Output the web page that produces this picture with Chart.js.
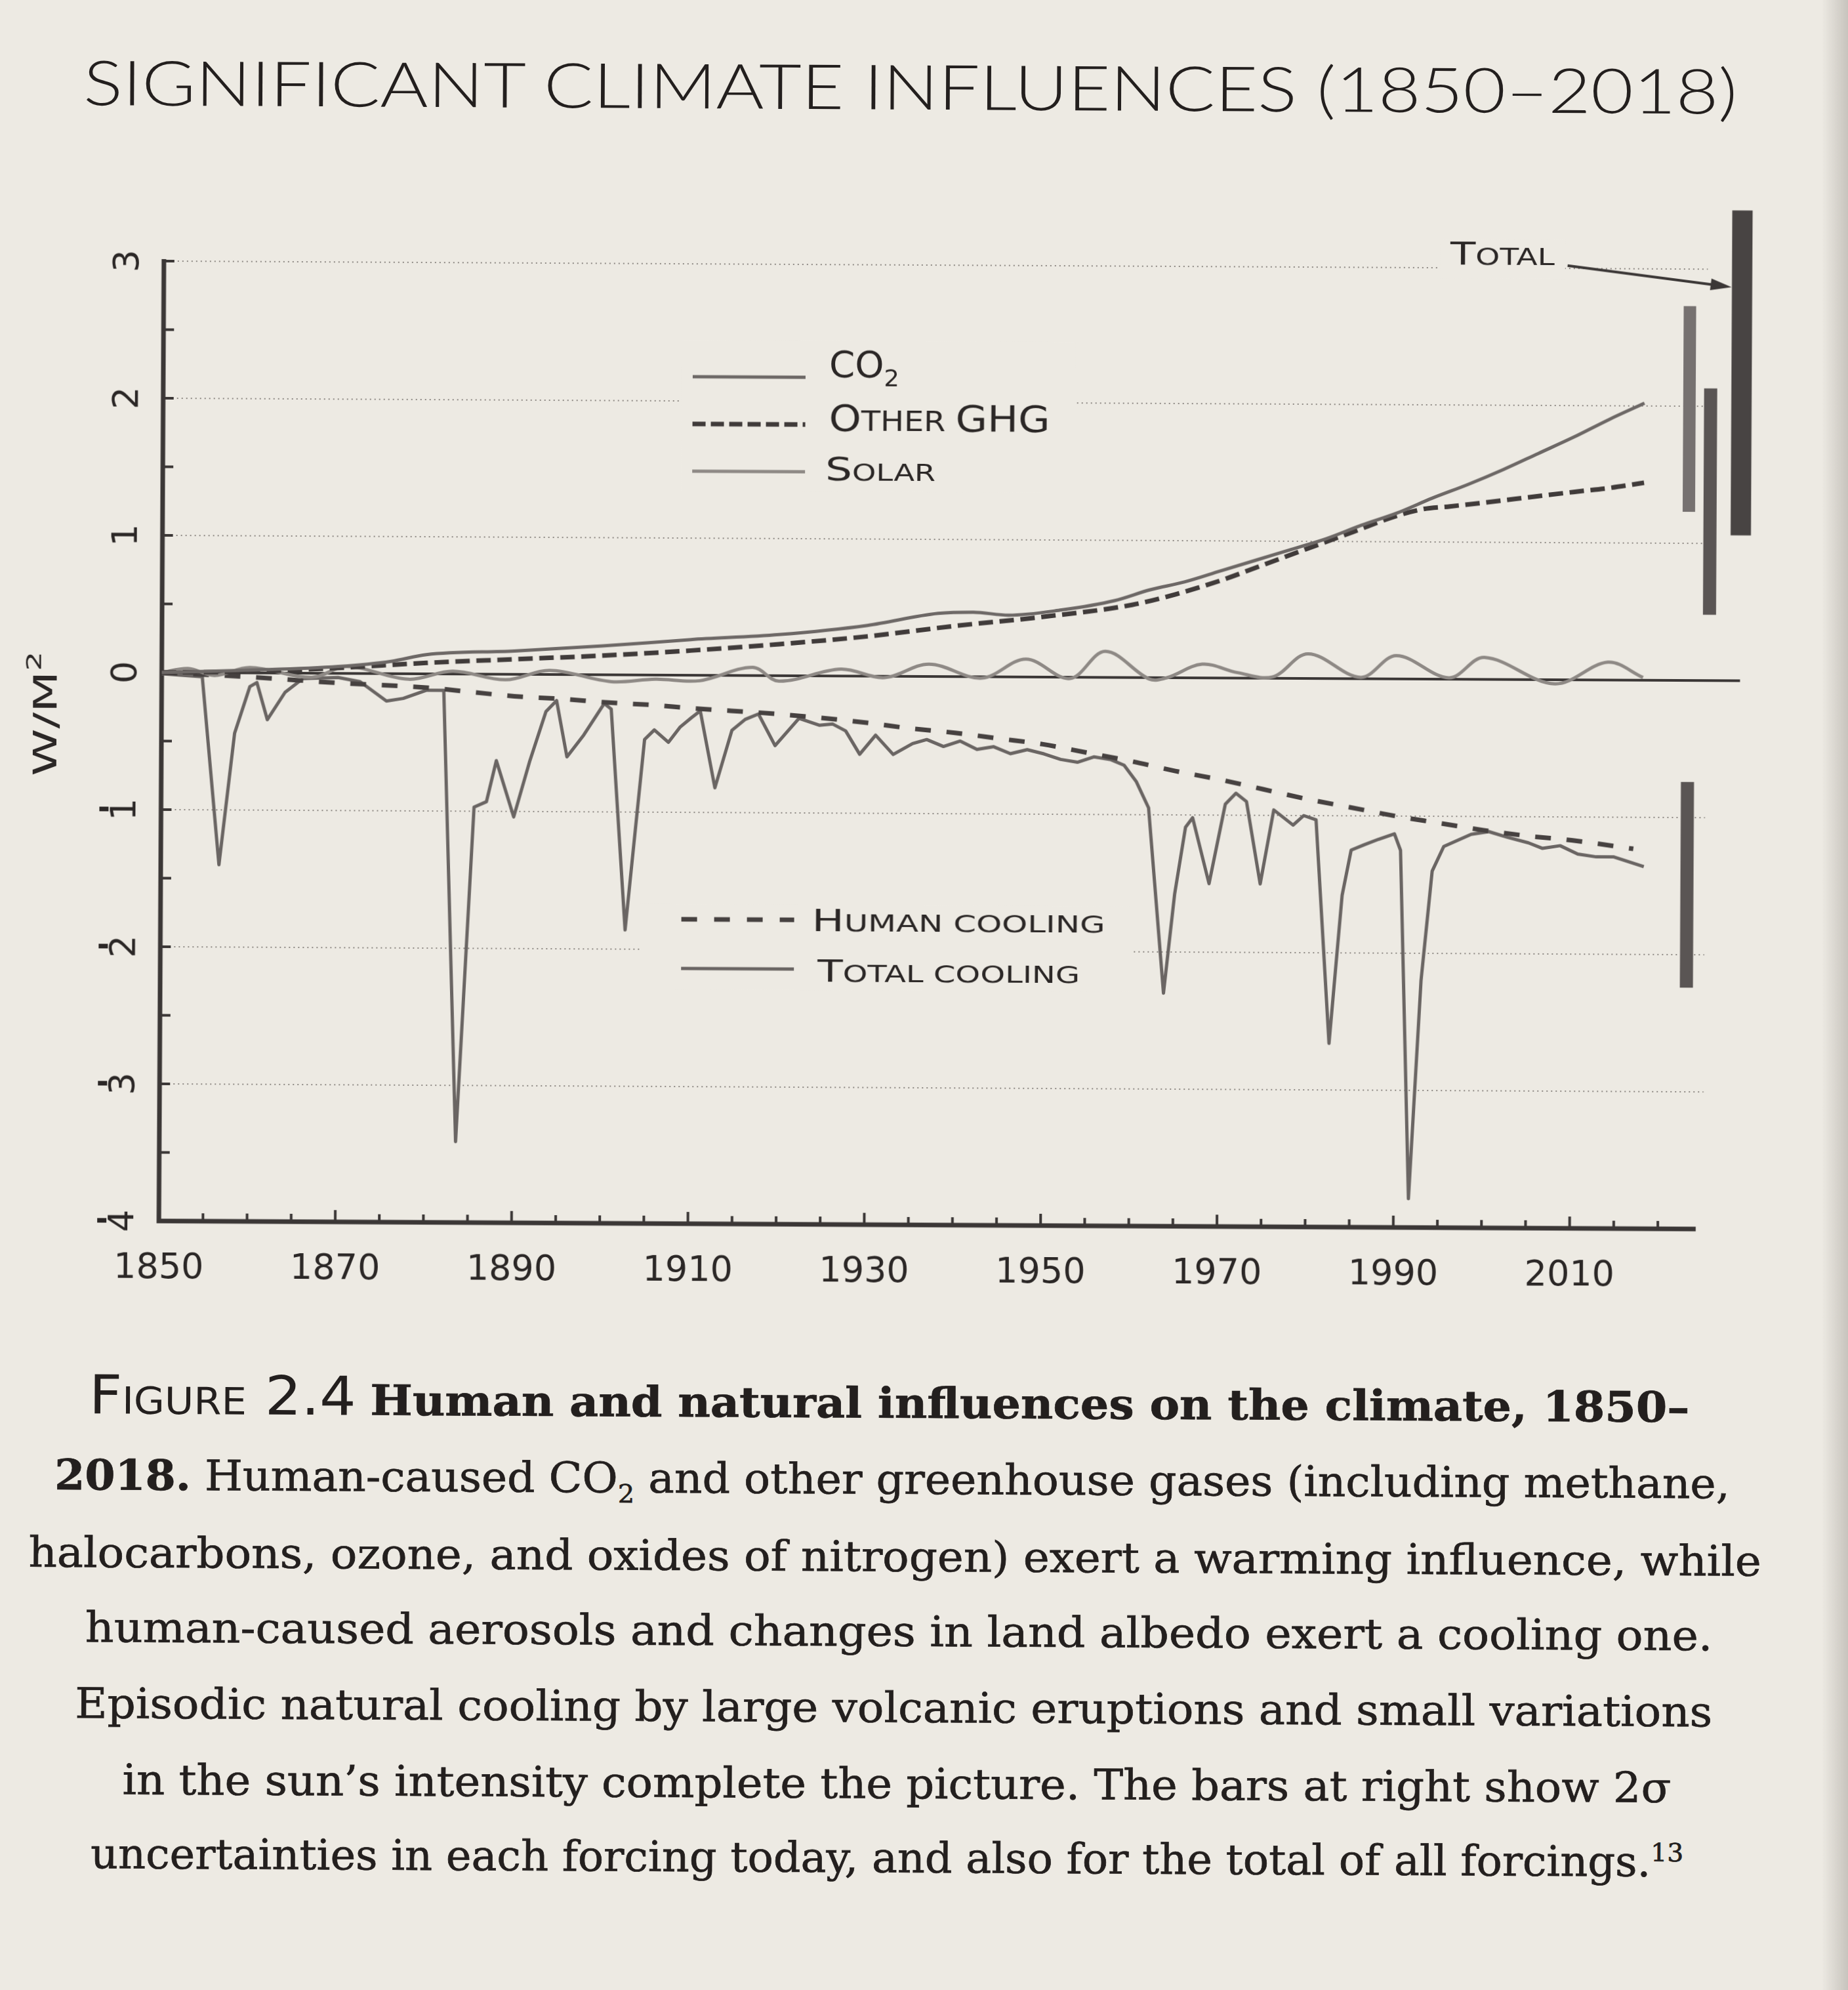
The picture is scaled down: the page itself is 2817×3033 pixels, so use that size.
<!DOCTYPE html>
<html>
<head>
<meta charset="utf-8">
<script src="https://cdn.jsdelivr.net/npm/chart.js@4.4.1/dist/chart.umd.min.js"></script>
<style>
  html, body { margin: 0; padding: 0; background: #edeae3; }
  body { width: 2817px; height: 3033px; overflow: hidden; position: relative; }
  #page { position: absolute; left: 0; top: 0; width: 2817px; height: 3033px;
          transform: rotate(0.3deg); transform-origin: 1408px 1516px; color: #231f1e; }
  #chart { position: absolute; left: 0; top: 0; }
  .fit { position: absolute; white-space: nowrap; transform-origin: 0 0; line-height: 1; }
  .bl { display: inline-block; width: 0; height: 0; }
  .title { font-family: Lato, 'Open Sans', sans-serif; font-weight: 300; font-size: 95px; }
  .cap { font-family: 'DejaVu Serif', serif; font-size: 64px; -webkit-text-stroke: 0.7px #231f1e; }
  .cap b { font-weight: bold; }
  .fig { font-family: 'DejaVu Sans', sans-serif; font-variant: small-caps; font-size: 82px; -webkit-text-stroke: 0; }
  .cap sub { font-size: 0.6em; vertical-align: -0.4em; line-height: 0; }
  .cap sup { font-size: 0.6em; vertical-align: 0.6em; line-height: 0; }
  #gutter { position: absolute; top: 0; right: 0; width: 40px; height: 3033px;
            background: linear-gradient(to right, rgba(130,125,120,0), rgba(130,125,120,0.35)); }
</style>
</head>
<body>
<div id="page">
  <div class="fit title" data-l="120" data-r="2641" data-b="167">SIGNIFICANT CLIMATE INFLUENCES (1850–2018)<i class="bl"></i></div>
  <canvas id="chart" width="2817" height="2000"></canvas>
  <div class="fit cap" data-l="139" data-r="2579" data-b="2161"><span class="fig">Figure 2.4</span> <b>Human and natural influences on the climate, 1850–</b><i class="bl"></i></div>
  <div class="fit cap" data-l="87" data-r="2641" data-b="2277"><b>2018.</b> Human-caused CO<sub>2</sub> and other greenhouse gases (including methane,<i class="bl"></i></div>
  <div class="fit cap" data-l="48" data-r="2689" data-b="2395">halocarbons, ozone, and oxides of nitrogen) exert a warming influence, while<i class="bl"></i></div>
  <div class="fit cap" data-l="135" data-r="2616" data-b="2509">human-caused aerosols and changes in land albedo exert a cooling one.<i class="bl"></i></div>
  <div class="fit cap" data-l="120" data-r="2616" data-b="2625">Episodic natural cooling by large volcanic eruptions and small variations<i class="bl"></i></div>
  <div class="fit cap" data-l="193" data-r="2554" data-b="2741">in the sun’s intensity complete the picture. The bars at right show 2σ<i class="bl"></i></div>
  <div class="fit cap" data-l="145" data-r="2573" data-b="2854">uncertainties in each forcing today, and also for the total of all forcings.<sup>13</sup><i class="bl"></i></div>
</div>
<div id="gutter"></div>

<script>
// forcing in W/m2
var co2Years = [1850, 1860, 1870, 1876, 1880, 1890, 1900, 1910, 1920, 1930, 1938, 1942, 1946, 1952, 1958,
  1962, 1966, 1970, 1974, 1978, 1982, 1986, 1990, 1994, 1998, 2002, 2006, 2010, 2014, 2018];
var co2Values = [0.00, 0.02, 0.05, 0.09, 0.14, 0.17, 0.21, 0.26, 0.30, 0.37, 0.46, 0.47, 0.45, 0.49, 0.56,
  0.64, 0.70, 0.78, 0.86, 0.94, 1.02, 1.12, 1.21, 1.32, 1.42, 1.53, 1.65, 1.77, 1.90, 2.02];

var ghgYears = [1850, 1860, 1870, 1880, 1890, 1900, 1910, 1920, 1930, 1940, 1950, 1960, 1965, 1970, 1975,
  1980, 1985, 1990, 1993, 1996, 2000, 2005, 2010, 2014, 2018];
var ghgValues = [0.00, 0.01, 0.04, 0.08, 0.11, 0.14, 0.18, 0.23, 0.29, 0.37, 0.44, 0.53, 0.61, 0.71, 0.83,
  0.95, 1.07, 1.19, 1.24, 1.26, 1.29, 1.33, 1.37, 1.40, 1.44];

var solarYears = [1850, 1853, 1856, 1860, 1867, 1871, 1878, 1883, 1889, 1894, 1901, 1906, 1911, 1917, 1920,
  1927, 1932, 1937, 1943, 1948, 1953, 1957, 1962, 1964, 1968, 1972, 1976, 1980, 1986, 1990, 1996, 2000,
  2008, 2014, 2018];
var solarValues = [0.00, 0.03, -0.02, 0.04, -0.03, 0.05, -0.04, 0.02, -0.04, 0.03, -0.05, -0.03, -0.04, 0.06, -0.04,
  0.05, -0.01, 0.09, -0.01, 0.13, -0.01, 0.19, -0.01, 0.00, 0.10, 0.04, 0.01, 0.18, 0.01, 0.17, 0.01, 0.16,
  -0.03, 0.13, 0.02];

var humanYears = [1850, 1860, 1870, 1880, 1885, 1890, 1896, 1900, 1906, 1910, 1920, 1930, 1935, 1940, 1945,
  1950, 1955, 1960, 1965, 1970, 1975, 1980, 1985, 1990, 1995, 2000, 2005, 2010, 2017];
var humanValues = [0.00, -0.03, -0.07, -0.10, -0.13, -0.16, -0.18, -0.20, -0.22, -0.24, -0.28, -0.34, -0.38, -0.41, -0.45,
  -0.49, -0.55, -0.61, -0.68, -0.74, -0.81, -0.88, -0.94, -1.00, -1.05, -1.10, -1.14, -1.17, -1.23];

var totalYears = [1850, 1854.6, 1856.6, 1858.3, 1860.0, 1860.8, 1862.0, 1864.0, 1866.0, 1870.0, 1872.5, 1875.5,
  1877.4, 1880.0, 1882.0, 1883.6, 1885.5, 1886.9, 1888.0, 1890.0, 1891.8, 1893.6, 1894.8, 1896.0, 1897.9,
  1900.2, 1901.0, 1902.7, 1904.8, 1905.9, 1907.5, 1908.8, 1910.1, 1911.1, 1912.8, 1914.7, 1916.2, 1917.7,
  1919.6, 1922.3, 1924.6, 1926.1, 1927.6, 1929.2, 1931.0, 1933.0, 1935.2, 1936.8, 1938.7, 1940.6, 1942.5,
  1944.4, 1946.3, 1948.2, 1950.1, 1952.0, 1953.9, 1955.8, 1957.7, 1959.2, 1960.6, 1962.0, 1963.8, 1965.0,
  1966.2, 1967.0, 1968.9, 1970.7, 1971.9, 1973.1, 1974.7, 1976.2, 1978.4, 1979.6, 1981.0, 1982.6, 1984.0,
  1985.0, 1986.5, 1988.1, 1989.9, 1990.6, 1991.7, 1993.0, 1994.2, 1995.5, 1998.6, 2000.6, 2002.7, 2005.1,
  2006.7, 2008.7, 2010.7, 2012.8, 2014.8, 2018.2];
var totalValues = [-0.01, -0.03, -1.40, -0.44, -0.10, -0.07, -0.34, -0.14, -0.04, -0.03, -0.06, -0.20,
  -0.18, -0.12, -0.12, -3.41, -0.97, -0.93, -0.63, -1.04, -0.63, -0.27, -0.19, -0.60, -0.44,
  -0.21, -0.25, -1.86, -0.47, -0.40, -0.49, -0.38, -0.31, -0.26, -0.82, -0.40, -0.32, -0.28,
  -0.51, -0.31, -0.36, -0.35, -0.40, -0.57, -0.43, -0.57, -0.49, -0.46, -0.51, -0.47, -0.53,
  -0.51, -0.56, -0.53, -0.56, -0.60, -0.62, -0.58, -0.60, -0.64, -0.76, -0.95, -2.30, -1.58,
  -1.09, -1.02, -1.50, -0.92, -0.84, -0.90, -1.50, -0.96, -1.07, -1.00, -1.03, -2.66, -1.58,
  -1.25, -1.21, -1.17, -1.13, -1.25, -3.79, -2.20, -1.40, -1.22, -1.13, -1.11, -1.15, -1.19,
  -1.23, -1.21, -1.27, -1.29, -1.29, -1.36];

// 2-sigma uncertainty bars at right
var barNames = ['CO2', 'Other GHG', 'Total', 'Human cooling'];
var barSlots = [2023.1, 2025.5, 2029.0, 2023.1];
var barLow = [1.23, 0.48, 1.06, -2.24];
var barHigh = [2.73, 2.13, 3.43, -0.74];

var yTicks = [3, 2, 1, 0, -1, -2, -3, -4];
var xTickLabels = [1850, 1870, 1890, 1910, 1930, 1950, 1970, 1990, 2010];

var PAPER = '#edeae3';
var INK = '#2b2726';
var AXIS = '#3b3736';
var FONT = "'DejaVu Sans', sans-serif";
var CO2_COLOR = '#6d6866';
var GHG_COLOR = '#403b3a';
var SOLAR_COLOR = '#8e8985';
var HUMAN_COLOR = '#464140';
var TOTAL_COLOR = '#6a6563';

function points(xs, ys) {
  return xs.map(function(x, i) { return { x: x, y: ys[i] }; });
}

// split "Other GHG" into big capitals and small capitals
function smallCaps(text, big, small) {
  var segs = [];
  text.split('').forEach(function(ch) {
    var isSmall = ch !== ch.toUpperCase() || ch === ' ';
    var size = isSmall ? small : big;
    var last = segs[segs.length - 1];
    if (last && last[1] === size) last[0] += ch.toUpperCase();
    else segs.push([ch.toUpperCase(), size, 0]);
  });
  return segs;
}

function drawSegs(ctx, segs, x, y, width) {
  var natural = 0;
  segs.forEach(function(s) {
    ctx.font = s[1] + 'px ' + FONT;
    natural += ctx.measureText(s[0]).width;
  });
  var k = width ? width / natural : 1;
  ctx.save();
  ctx.translate(x, y);
  ctx.scale(k, 1);
  ctx.textAlign = 'left';
  ctx.textBaseline = 'alphabetic';
  ctx.fillStyle = INK;
  var cx = 0;
  segs.forEach(function(s) {
    ctx.font = s[1] + 'px ' + FONT;
    ctx.fillText(s[0], cx, s[2] || 0);
    cx += ctx.measureText(s[0]).width;
  });
  ctx.restore();
}

function hLine(ctx, x1, x2, y, width, color, dash) {
  ctx.save();
  ctx.strokeStyle = color;
  ctx.lineWidth = width;
  ctx.setLineDash(dash || []);
  ctx.beginPath();
  ctx.moveTo(x1, y);
  ctx.lineTo(x2, y);
  ctx.stroke();
  ctx.restore();
}

var framePlugin = {
  id: 'frame',
  beforeDatasetsDraw: function(chart) {
    var ctx = chart.ctx;
    var xs = chart.scales.x, ys = chart.scales.y;
    var px = function(v) { return xs.getPixelForValue(v); };
    var py = function(v) { return ys.getPixelForValue(v); };

    // dotted grid
    [3, 2, 1, -1, -2, -3].forEach(function(v) {
      hLine(ctx, px(1850), px(2025.1), py(v), 2, '#8f8a85', [2, 5]);
    });
    // paper behind legends and the "Total" label
    ctx.fillStyle = PAPER;
    ctx.fillRect(1034, 520, 600, 230);
    ctx.fillRect(975, 1380, 750, 130);
    ctx.fillRect(2190, 360, 190, 60);

    // zero line
    hLine(ctx, px(1850), px(2029.0), py(0), 4, AXIS);

    // axes
    ctx.save();
    ctx.strokeStyle = AXIS;
    ctx.lineWidth = 7;
    ctx.beginPath();
    ctx.moveTo(px(1850), py(3) - 3);
    ctx.lineTo(px(1850), py(-4));
    ctx.lineTo(px(2024.3), py(-4));
    ctx.stroke();

    ctx.lineWidth = 4;
    for (var v = -3.5; v <= 3; v += 0.5) {
      ctx.beginPath();
      ctx.moveTo(px(1850), py(v));
      ctx.lineTo(px(1850) + 16, py(v));
      ctx.stroke();
    }
    for (var yr = 1855; yr <= 2020; yr += 5) {
      var len = (yr - 1870) % 20 === 0 ? 18 : 12;
      ctx.beginPath();
      ctx.moveTo(px(yr), py(-4));
      ctx.lineTo(px(yr), py(-4) - len);
      ctx.stroke();
    }
    ctx.restore();

    // x tick labels
    ctx.save();
    ctx.fillStyle = INK;
    ctx.font = '54px ' + FONT;
    ctx.textAlign = 'center';
    ctx.textBaseline = 'alphabetic';
    xTickLabels.forEach(function(yr) {
      ctx.fillText(String(yr), px(yr), 1954);
    });
    ctx.restore();

    // y tick labels, set on their side
    yTicks.forEach(function(v) {
      var y = py(v);
      ctx.save();
      ctx.fillStyle = INK;
      ctx.translate(186, y);
      ctx.rotate(-Math.PI / 2);
      ctx.font = '54px ' + FONT;
      ctx.textAlign = 'center';
      ctx.textBaseline = 'alphabetic';
      ctx.fillText(String(Math.abs(v)), 0, 19);
      ctx.restore();
      if (v < 0) {
        ctx.fillStyle = INK;
        ctx.fillRect(150, y - 4, 14, 7);
      }
    });

    // axis title W/M²
    ctx.save();
    ctx.translate(66, 1095);
    ctx.rotate(-Math.PI / 2);
    drawSegs(ctx, [['W/M', 50, 0], ['2', 32, -24]], -95, 18, 190);
    ctx.restore();
  },
  afterDraw: function(chart) {
    var ctx = chart.ctx;
    var xs = chart.scales.x, ys = chart.scales.y;
    var px = function(v) { return xs.getPixelForValue(v); };
    var py = function(v) { return ys.getPixelForValue(v); };

    // upper legend
    hLine(ctx, 1051, 1223, 576, 5, CO2_COLOR);
    hLine(ctx, 1051, 1223, 648, 7, GHG_COLOR, [20, 8]);
    hLine(ctx, 1051, 1223, 720, 5, SOLAR_COLOR);
    drawSegs(ctx, [['CO', 55, 0], ['2', 36, 14]], 1259, 575, 107);
    drawSegs(ctx, smallCaps('Other GHG', 55, 42), 1259, 657, 337);
    drawSegs(ctx, smallCaps('Solar', 50, 36), 1254, 733, 168);

    // lower legend
    hLine(ctx, 1038, 1210, 1403, 7, HUMAN_COLOR, [24, 26]);
    hLine(ctx, 1038, 1210, 1478, 5, TOTAL_COLOR);
    drawSegs(ctx, smallCaps('Human cooling', 46, 35), 1237, 1420, 447);
    drawSegs(ctx, smallCaps('Total cooling', 46, 35), 1246, 1497, 400);

    // "Total" label with arrow to the total bar
    drawSegs(ctx, smallCaps('Total', 48, 36), 2205, 399, 159);
    var tipX = px(barSlots[2]) - 16, tipY = py(2.87);
    var sx = px(2009.2), sy = py(3.02);
    var ang = Math.atan2(tipY - sy, tipX - sx);
    ctx.save();
    ctx.strokeStyle = AXIS;
    ctx.fillStyle = AXIS;
    ctx.lineWidth = 4;
    ctx.beginPath();
    ctx.moveTo(sx, sy);
    ctx.lineTo(tipX - 26 * Math.cos(ang), tipY - 26 * Math.sin(ang));
    ctx.stroke();
    ctx.translate(tipX, tipY);
    ctx.rotate(ang);
    ctx.beginPath();
    ctx.moveTo(0, 0);
    ctx.lineTo(-32, -9);
    ctx.lineTo(-32, 9);
    ctx.closePath();
    ctx.fill();
    ctx.restore();
  }
};

var barWidths = [19, 20, 31, 20];
var barColors = ['#767170', '#5a5554', '#484443', '#5a5554'];

var datasets = [
  { label: 'CO2', data: points(co2Years, co2Values), borderColor: CO2_COLOR, borderWidth: 5,
    cubicInterpolationMode: 'monotone' },
  { label: 'Other GHG', data: points(ghgYears, ghgValues), borderColor: GHG_COLOR, borderWidth: 7,
    borderDash: [22, 10], cubicInterpolationMode: 'monotone' },
  { label: 'Solar', data: points(solarYears, solarValues), borderColor: SOLAR_COLOR, borderWidth: 5,
    tension: 0.35 },
  { label: 'Human cooling', data: points(humanYears, humanValues), borderColor: HUMAN_COLOR, borderWidth: 7,
    borderDash: [24, 24], cubicInterpolationMode: 'monotone' },
  { label: 'Total cooling', data: points(totalYears, totalValues), borderColor: TOTAL_COLOR, borderWidth: 5,
    tension: 0 }
];

// each uncertainty range is a thick vertical segment from low to high
barNames.forEach(function(name, i) {
  datasets.push({
    label: name + ' range',
    data: [{ x: barSlots[i], y: barLow[i] }, { x: barSlots[i], y: barHigh[i] }],
    borderColor: barColors[i],
    borderWidth: barWidths[i],
    borderCapStyle: 'butt',
    tension: 0,
    clip: false
  });
});

new Chart(document.getElementById('chart'), {
  type: 'line',
  data: { datasets: datasets },
  options: {
    responsive: false,
    devicePixelRatio: 1,
    animation: false,
    layout: { padding: { left: 244, right: 151, top: 404, bottom: 133 } },
    elements: {
      point: { radius: 0 },
      line: { fill: false, borderCapStyle: 'butt', borderJoinStyle: 'round' }
    },
    plugins: { legend: { display: false }, tooltip: { enabled: false } },
    scales: {
      x: { type: 'linear', min: 1850, max: 2030.2, offset: false, display: false },
      y: { type: 'linear', min: -4, max: 3, display: false }
    }
  },
  plugins: [framePlugin]
});

// stretch title and caption lines to their measured widths and baselines
function fitText() {
  var els = document.querySelectorAll('.fit');
  for (var i = 0; i < els.length; i++) {
    var el = els[i];
    var l = +el.dataset.l, r = +el.dataset.r, b = +el.dataset.b;
    el.style.left = l + 'px';
    el.style.top = '0px';
    el.style.transform = 'none';
    var w = el.offsetWidth;
    var base = el.querySelector('.bl').offsetTop;
    el.style.top = (b - base) + 'px';
    el.style.transform = 'scaleX(' + ((r - l) / w) + ')';
  }
}
if (document.fonts && document.fonts.ready) document.fonts.ready.then(fitText);
fitText();
</script>
</body>
</html>
